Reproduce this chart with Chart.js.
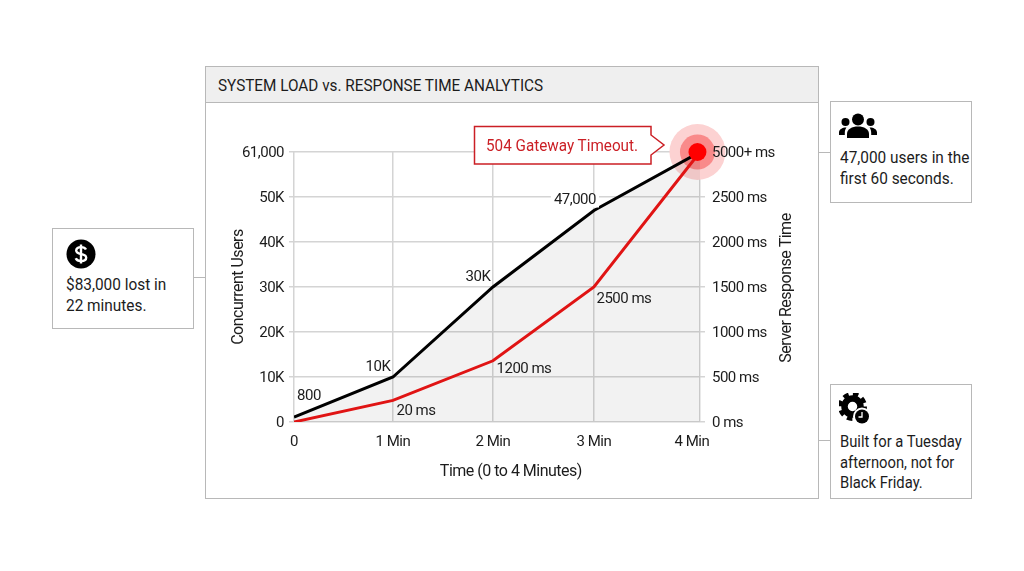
<!DOCTYPE html>
<html>
<head>
<meta charset="utf-8">
<script src="https://cdn.jsdelivr.net/npm/chart.js@4"></script>
<style>
html, body { margin: 0; padding: 0; background: #fff; }
body { width: 1024px; height: 571px; position: relative; overflow: hidden; font-family: Roboto, sans-serif; color: #1c1c1c; }
canvas { position: absolute; left: 0; top: 0; }
.box { position: absolute; box-sizing: border-box; border: 1.5px solid #b8b8b8; background: #fff; }
.panel { left: 205px; top: 66px; width: 614px; height: 433px; }
.head { position: absolute; left: 205px; top: 66px; width: 614px; height: 37px; box-sizing: border-box; border: 1.5px solid #b8b8b8; background: #efefef; padding: 8px 0 0 12px; font-size: 17px; line-height: 20px; white-space: nowrap; }
.head span { display: inline-block; transform: scaleX(0.9); transform-origin: left; }
.wire { position: absolute; height: 1px; background: #b8b8b8; }
.card { font-size: 17px; line-height: 21px; white-space: nowrap; }
.card svg { position: absolute; }
.card div { position: absolute; left: 13px; transform: scaleX(0.905); transform-origin: left; }
</style>
</head>
<body>
<div class="box panel"></div>
<div class="wire" style="left:194px;top:277px;width:11px"></div>
<div class="wire" style="left:819px;top:152px;width:11px"></div>
<div class="wire" style="left:819px;top:440px;width:11px"></div>

<div class="box card" style="left:52px;top:228px;width:142px;height:101px">
  <svg style="left:13px;top:10px" width="30" height="30" viewBox="0 0 30 30">
    <circle cx="15" cy="15" r="14.5" fill="#000"/>
    <path d="M20 10.5c-.8-1.6-2.6-2.4-5-2.4-2.800 0-4.800 1.300-4.800 3.500 0 4.800 10 2.300 10 6.800 0 2.300-2.200 3.600-5.100 3.600-2.600 0-4.600-1-5.400-2.800" fill="none" stroke="#fff" stroke-width="2.400"/>
    <path d="M15 5.500v19" stroke="#fff" stroke-width="2.400"/>
  </svg>
  <div style="top:45px">$83,000 lost in<br>22 minutes.</div>
</div>

<div class="box card" style="left:830px;top:101px;width:142px;height:102px">
  <svg style="left:8px;top:11px" width="38" height="26" viewBox="0 0 38 26">
    <circle cx="19" cy="6.500" r="6" fill="#000"/>
    <circle cx="6.500" cy="9" r="4" fill="#000"/>
    <circle cx="31.500" cy="9" r="4" fill="#000"/>
    <path d="M8 25v-4c0-5 5-7.500 11-7.500S30 16 30 21v4z" fill="#000"/>
    <path d="M0 22v-2.500c0-3 3-5 7.500-5-1.200 1.500-1.700 3.300-1.700 5.500v2zM38 22v-2.500c0-3-3-5-7.500-5 1.200 1.500 1.700 3.300 1.700 5.500v2z" fill="#000"/>
  </svg>
  <div style="left:9px;top:45px">47,000 users in the<br>first 60 seconds.</div>
</div>

<div class="box card" style="left:830px;top:384px;width:142px;height:115px">
  <svg style="left:8px;top:8px" width="34" height="34" viewBox="0 0 34 34">
    <circle cx="13.500" cy="13.500" r="8" fill="none" stroke="#000" stroke-width="6.500"/>
    <circle cx="13.500" cy="13.500" r="12.500" fill="none" stroke="#000" stroke-width="4" stroke-dasharray="5.500 4.320"/>
    <circle cx="23" cy="23.500" r="9" fill="#fff"/>
    <circle cx="23" cy="23.500" r="7" fill="#000"/>
    <path d="M23 19V24H19.500" fill="none" stroke="#fff" stroke-width="1.300"/>
  </svg>
  <div style="left:9px;top:46px;line-height:20.500px;transform:scaleX(0.87)">Built for a Tuesday<br>afternoon, not for<br>Black Friday.</div>
</div>

<canvas id="loadChart" width="1024" height="571"></canvas>

<div class="head"><span>SYSTEM LOAD vs. RESPONSE TIME ANALYTICS</span></div>

<svg style="position:absolute;left:0;top:0" width="1024" height="571">
  <path d="M474.500 126.500H651V135L664 145L651 155V164H474.500Z" fill="#fff" stroke="#cb1f25" stroke-width="1.500"/>
  <text x="486" y="151" font-family="Roboto" font-size="17" fill="#cb1f25" textLength="152" lengthAdjust="spacingAndGlyphs">504 Gateway Timeout.</text>
</svg>

<script>
// x positions are read off the gridlines, they are not quite evenly spaced
const xMinutes = [0, 0.975, 1.96, 2.955, 4];
const xTickLabels = ['0', '1 Min', '2 Min', '3 Min', '4 Min'];

const usersTickLabels = ['0', '10K', '20K', '30K', '40K', '50K', '61,000'];
const responseTickLabels = ['0 ms', '500 ms', '1000 ms', '1500 ms', '2000 ms', '2500 ms', '5000+ ms'];

// values are in axis units: the top tick sits one step above the last one
const usersValues = [1100, 10000, 30000, 47000, 60000];
const responseValues = [0, 240, 680, 1500, 3000];

const usersLabels = ['800', '10K', '30K', '47,000', ''];
const responseLabels = ['', '20 ms', '1200 ms', '2500 ms', ''];

const peakMinute = [3.975];
const peakResponse = [3000];

const FONT = 'Roboto';
const INK = '#1c1c1c';
const GRID = '#d4d4d4';

function toPoints(xs, ys) {
    return ys.map((y, i) => ({ x: xs[i], y: y }));
}

function haloDataset(color, radius, order) {
    return {
        data: toPoints(peakMinute, peakResponse),
        yAxisID: 'yResponse',
        showLine: false,
        pointRadius: radius,
        pointHoverRadius: radius,
        pointBackgroundColor: color,
        pointBorderWidth: 0,
        clip: false,
        order: order
    };
}

const usersLabelOffsets = [[15, -21], [-15, -10], [-15, -10], [-19, -10]];
const responseLabelOffsets = [null, [23, 11], [31, 8], [30, 12]];

// the reference text is narrow, tighten everything drawn on the canvas
const narrowText = {
    id: 'narrowText',
    beforeDraw(chart) {
        chart.ctx.letterSpacing = '-0.5px';
    }
};

const pointLabels = {
    id: 'pointLabels',
    afterDatasetsDraw(chart) {
        const { ctx, scales } = chart;
        ctx.save();
        ctx.font = `15px ${FONT}`;
        ctx.fillStyle = INK;
        ctx.textAlign = 'center';
        ctx.textBaseline = 'middle';
        const put = (text, i, y, offsets) => {
            if (!text) return;
            const px = scales.x.getPixelForValue(xMinutes[i]) + offsets[i][0];
            const py = y + offsets[i][1];
            if (text === '47,000') {
                const w = ctx.measureText(text).width + 6;
                ctx.fillStyle = '#fff';
                ctx.fillRect(px - w / 2, py - 7, w, 14);
                ctx.fillStyle = INK;
            }
            ctx.fillText(text, px, py);
        };
        usersLabels.forEach((t, i) => put(t, i, scales.yUsers.getPixelForValue(usersValues[i]), usersLabelOffsets));
        responseLabels.forEach((t, i) => put(t, i, scales.yResponse.getPixelForValue(responseValues[i]), responseLabelOffsets));

        // Chart.js always turns a right axis title clockwise, here it reads upwards
        ctx.font = `16px ${FONT}`;
        ctx.translate(787, 288);
        ctx.rotate(-Math.PI / 2);
        ctx.fillText('Server Response Time', 0, 0);
        ctx.restore();
    }
};

new Chart(document.getElementById('loadChart').getContext('2d'), {
    type: 'line',
    data: {
        datasets: [
            haloDataset('#fcd2d2', 28, 5),
            haloDataset('#f98a8a', 17.5, 4),
            {
                data: toPoints(xMinutes, usersValues),
                yAxisID: 'yUsers',
                borderColor: '#000',
                borderWidth: 3,
                backgroundColor: 'rgba(0,0,0,0.05)',
                fill: 'origin',
                pointRadius: 0,
                order: 3
            },
            {
                data: toPoints(xMinutes, responseValues),
                yAxisID: 'yResponse',
                borderColor: '#e01414',
                borderWidth: 3,
                pointRadius: 0,
                order: 2
            },
            haloDataset('#ff0000', 9, 1)
        ]
    },
    options: {
        responsive: false,
        animation: false,
        devicePixelRatio: 1,
        layout: { autoPadding: false, padding: { left: 229, right: 226, top: 152, bottom: 89 } },
        plugins: { legend: { display: false }, tooltip: { enabled: false } },
        scales: {
            x: {
                type: 'linear',
                min: 0,
                max: 4,
                afterBuildTicks: scale => { scale.ticks = xMinutes.map(v => ({ value: v })); },
                afterFit: scale => { scale.height = 60; },
                grid: { color: GRID, lineWidth: 1.5, drawTicks: false },
                border: { display: false },
                ticks: {
                    autoSkip: false,
                    maxRotation: 0,
                    padding: 11,
                    color: INK,
                    font: { family: FONT, size: 15 },
                    // the last label sits left of its gridline in the reference
                    callback: (value, i) => i === 4 ? xTickLabels[i] + '     ' : xTickLabels[i]
                },
                title: {
                    display: true,
                    text: '        Time (0 to 4 Minutes)',
                    color: INK,
                    font: { family: FONT, size: 16 },
                    padding: { top: 7, bottom: 0 }
                }
            },
            yUsers: {
                position: 'left',
                min: 0,
                max: 60000,
                afterFit: scale => { scale.width = 65; },
                grid: { color: GRID, lineWidth: 1.5, tickLength: 5 },
                border: { display: false },
                ticks: {
                    stepSize: 10000,
                    padding: 5,
                    labelOffset: 1,
                    color: INK,
                    font: { family: FONT, size: 15 },
                    callback: (value, i) => usersTickLabels[i]
                },
                title: {
                    display: true,
                    text: 'Concurrent Users',
                    color: INK,
                    font: { family: FONT, size: 16 },
                    padding: 0
                }
            },
            yResponse: {
                position: 'right',
                min: 0,
                max: 3000,
                afterFit: scale => { scale.width = 98; },
                grid: { color: GRID, lineWidth: 1.5, tickLength: 5, drawOnChartArea: false },
                border: { display: false },
                ticks: {
                    stepSize: 500,
                    padding: 7,
                    labelOffset: 1,
                    z: 1,
                    color: INK,
                    font: { family: FONT, size: 15 },
                    callback: (value, i) => responseTickLabels[i]
                }
            }
        }
    },
    plugins: [narrowText, pointLabels]
});
</script>
</body>
</html>
